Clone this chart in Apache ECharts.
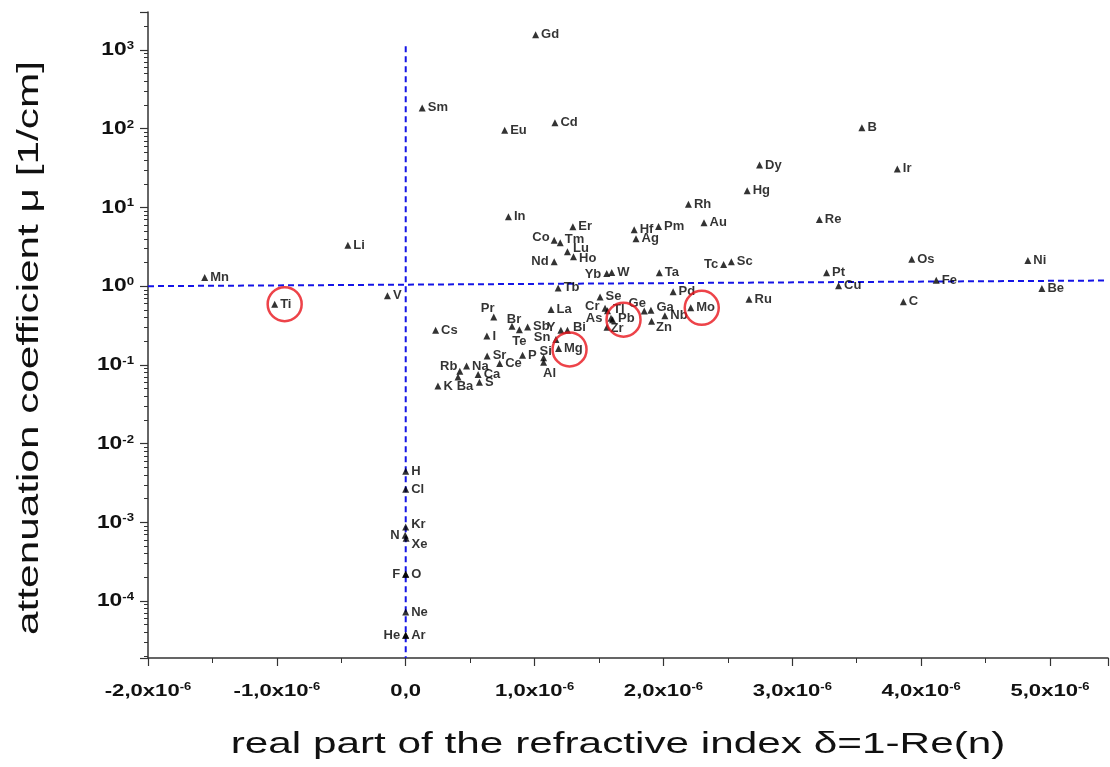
<!DOCTYPE html>
<html>
<head>
<meta charset="utf-8">
<script src="https://cdn.jsdelivr.net/npm/echarts@6/dist/echarts.min.js"></script>
<style>
html,body{margin:0;padding:0;background:#fff;}
#chart{width:1110px;height:767px;}
</style>
</head>
<body>
<div id="chart"></div>
<script>
// element symbols
const elements = ['Gd','Sm','Eu','Cd','B','Dy','Ir','Hg','Rh','Re','In','Au','Er','Hf','Pm','Ag','Co','Tm','Li','Lu','Ho','Nd','Os','Ni','Sc','Tc','Yb','W','Ta','Pt','Mn','Fe','Cu','Be','Tb','Pd','V','Se','Ru','C','Ti','Mo','La','Cr','Tl','Ge','Ga','Nb','Pr','As','Pb','Zn','Zr','Br','Sb','Y','Bi','Te','Cs','I','Sn','Mg','Sr','P','Si','Al','Ce','Na','Rb','Ba','Ca','S','K','H','Cl','Kr','N','Xe','F','O','Ne','He','Ar'];
// delta = 1 - Re(n), in units of 1e-6
const delta_e6 = [1.008,0.128,0.768,1.158,3.540,2.746,3.815,2.650,2.194,3.210,0.797,2.315,1.297,1.773,1.962,1.787,1.152,1.199,-0.449,1.255,1.302,1.152,3.927,4.828,2.527,2.467,1.560,1.599,1.968,3.266,-1.560,4.117,3.359,4.937,1.183,2.075,-0.142,1.508,2.664,3.862,-1.017,2.212,1.128,1.547,1.566,1.851,1.903,2.011,0.683,1.593,1.605,1.908,1.562,0.825,0.946,1.204,1.255,0.882,0.232,0.630,1.166,1.186,0.632,0.907,1.070,1.070,0.729,0.472,0.420,0.406,0.562,0.572,0.250,0,0,0,-0.004,0.003,0,0,0,0,0];
// attenuation coefficient mu [1/cm]
const mu = [1560,184,96,119,103,34.5,30.9,16.3,11.0,7.04,7.6,6.37,5.67,5.19,5.74,3.99,3.84,3.55,3.32,2.73,2.36,2.04,2.2,2.12,2.04,1.89,1.45,1.49,1.48,1.48,1.29,1.19,1.01,0.935,0.95,0.847,0.753,0.731,0.684,0.632,0.590,0.530,0.506,0.525,0.489,0.485,0.496,0.42,0.407,0.392,0.375,0.359,0.301,0.310,0.304,0.276,0.276,0.280,0.276,0.232,0.210,0.162,0.130,0.133,0.123,0.108,0.104,0.097,0.083,0.070,0.0755,0.0603,0.054,0.00446,0.00264,8.75e-4,6.85e-4,6.28e-4,2.19e-4,2.19e-4,7.27e-5,3.67e-5,3.67e-5];
// highlighted (circled) elements
const circled = ['Ti','Mg','Pb','Mo'];
// reference lines
const vLineDelta = [0, 0];
const vLineMu = [1120, 1.89e-5];
const hLineDelta = [-2, 5.45];
const hLineMu = [1.0, 1.18];
// axis ranges / ticks
const xMin = -2, xMax = 5.45, xStep = 1;
const yMin = 1.89e-5, yMax = 3040;
const xTickValues = [-2, -1, 0, 1, 2, 3, 4, 5];
const xTickExponent = '-6';
const yTickExponents = [-4, -3, -2, -1, 0, 1, 2, 3];
const xTitle = 'real part of the refractive index δ=1-Re(n)';
const yTitle = 'attenuation coefficient μ [1/cm]';

// label placement styles (by element): [position, dx, dy]
const labelStyle = {
  Co:['left',1,-3], Nd:['left',0,0], Yb:['left',0,1], Tc:['left',0,0], Cr:['left',0,-2], As:['left',-3,0],
  Sn:['left',0,-2], Y:['left',0,-3], Bi:['right',0,-3], Rb:['left',3,-5], Ba:['bottom',7,-3],
  Br:['top',2,5], Te:['bottom',0,0], Pr:['top',-6,4], Ge:['top',-7,5], Zr:['right',-2,1],
  Xe:['right',0,6], N:['left',0,0], F:['left',0,0], He:['left',0,0], Si:['top',2,6], Al:['bottom',6,-1],
  Tl:['right',0,-1], Pb:['right',0,-1], Zn:['right',-1,6], Kr:['right',0,-2], Ga:['right',0,-3],
  Lu:['right',0,-3], Ho:['right',0,2], Tm:['right',-1,-3]
};
const circleOffset = {Ti:[10,0], Mg:[11,1], Pb:[11,0], Mo:[11,0]};

const FONT = '"Liberation Sans", Arial, Helvetica, sans-serif';
const INK = '#111';

const pts = elements.map((name, i) => {
  const st = labelStyle[name] || ['right',0,0];
  return {
    name: name,
    value: [delta_e6[i], mu[i]],
    label: { position: st[0] }
  };
});

const circlePts = circled.map(name => {
  const i = elements.indexOf(name);
  return { value: [delta_e6[i], mu[i]], symbolOffset: circleOffset[name] };
});

const chart = echarts.init(document.getElementById('chart'), null, {renderer: 'canvas'});
chart.setOption({
  backgroundColor: '#ffffff',
  animation: false,
  grid: { left: 148, right: 2, top: 12, bottom: 109, containLabel: false, outerBoundsMode: 'none' },
  xAxis: {
    type: 'value', min: xMin, max: xMax, interval: xStep,
    axisLine: { show: true, onZero: false, lineStyle: { color: '#333', width: 1.5 } },
    axisTick: { show: true, inside: false, length: 8, lineStyle: { color: '#333', width: 1.2 } },
    minorTick: { show: true, splitNumber: 2, length: 5, lineStyle: { color: '#333', width: 1 } },
    splitLine: { show: false },
    axisLabel: { show: false }
  },
  yAxis: {
    type: 'log', logBase: 10, min: yMin, max: yMax, splitNumber: 8,
    axisLine: { show: true, onZero: false, lineStyle: { color: '#333', width: 1.5 } },
    axisTick: { show: true, inside: false, length: 8, lineStyle: { color: '#333', width: 1.2 } },
    minorTick: { show: true, splitNumber: 9, length: 4, lineStyle: { color: '#333', width: 1 } },
    splitLine: { show: false },
    axisLabel: { show: false }
  },
  series: [
    {
      type: 'line', data: vLineDelta.map((d, i) => [d, vLineMu[i]]),
      symbol: 'none', silent: true,
      lineStyle: { color: '#1414e6', width: 2, type: [6, 4] }, z: 1
    },
    {
      type: 'line', data: hLineDelta.map((d, i) => [d, hLineMu[i]]),
      symbol: 'none', silent: true,
      lineStyle: { color: '#1414e6', width: 2, type: [6, 4] }, z: 1
    },
    {
      type: 'scatter', data: pts, symbol: 'triangle', symbolSize: 7,
      itemStyle: { color: '#000' }, z: 3,
      label: {
        show: true, formatter: p => p.name, distance: 2,
        fontFamily: FONT, fontSize: 13, fontWeight: 'bold', color: '#000'
      },
      labelLayout: params => {
        const st = labelStyle[elements[params.dataIndex]] || ['right', 0, 0];
        return { dx: st[1], dy: st[2], hideOverlap: false };
      }
    },
    {
      type: 'scatter', data: circlePts, symbol: 'circle', symbolSize: 34, z: 4, silent: true,
      itemStyle: { color: 'rgba(0,0,0,0)', borderColor: '#e8141c', borderWidth: 2.5 }
    }
  ]
});

// axis tick labels and titles, positioned through the chart's own axis scales
const graphics = [];
xTickValues.forEach(v => {
  const p = chart.convertToPixel({gridIndex: 0}, [v, yMin]);
  const txt = Math.abs(v) < 1e-9 ? '{b|0,0}' : '{b|' + v.toFixed(1).replace('.', ',') + 'x10}{s|' + xTickExponent + '}';
  graphics.push({
    type: 'text', x: p[0], y: p[1] + 33, scaleX: 1.3, silent: true,
    style: {
      text: txt, align: 'center', verticalAlign: 'middle',
      rich: {
        b: { fontFamily: FONT, fontSize: 17, fontWeight: 'bold', fill: INK },
        s: { fontFamily: FONT, fontSize: 10, fontWeight: 'bold', fill: INK, verticalAlign: 'top' }
      }
    }
  });
});
yTickExponents.forEach(e => {
  const p = chart.convertToPixel({gridIndex: 0}, [xMin, Math.pow(10, e)]);
  graphics.push({
    type: 'text', x: p[0] - 14, y: p[1], scaleX: 1.2, silent: true,
    style: {
      text: '{b|10}{s|' + e + '}', align: 'right', verticalAlign: 'middle',
      rich: {
        b: { fontFamily: FONT, fontSize: 19, fontWeight: 'bold', fill: INK },
        s: { fontFamily: FONT, fontSize: 11, fontWeight: 'bold', fill: INK, verticalAlign: 'top' }
      }
    }
  });
});
graphics.push({
  type: 'text', x: 618, y: 745, scaleX: 1.41, silent: true,
  style: { text: xTitle, align: 'center', verticalAlign: 'middle', font: '30px ' + FONT, fill: INK }
});
graphics.push({
  type: 'text', x: 30, y: 348, rotation: Math.PI / 2, scaleX: 1.41, silent: true,
  style: { text: yTitle, align: 'center', verticalAlign: 'middle', font: '30px ' + FONT, fill: INK }
});
chart.setOption({ graphic: graphics });
</script>
</body>
</html>
